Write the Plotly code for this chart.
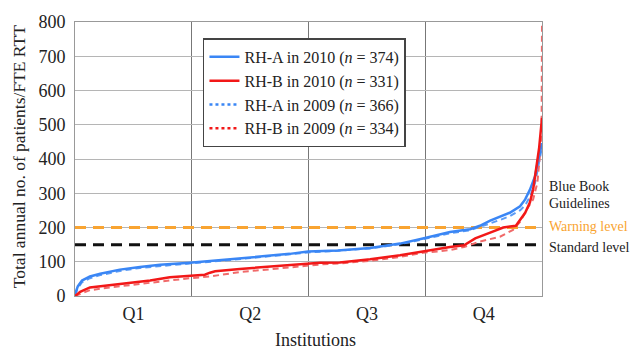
import plotly.graph_objects as go

# Institutions ranked by workload; x is the rank position (0 = lowest, 1 = highest)
rank_a2010 = [0.000, 0.006, 0.015, 0.032, 0.054, 0.096, 0.139, 0.182, 0.246, 0.332,
              0.396, 0.460, 0.499, 0.563, 0.632, 0.664, 0.696, 0.745, 0.782, 0.803,
              0.846, 0.867, 0.889, 0.910, 0.931, 0.953, 0.964, 0.974, 0.985, 0.991,
              0.998, 1.000]
vals_a2010 = [5, 28, 45, 57, 65, 77, 85, 91, 97, 107,
              116, 123, 130, 133, 140, 147, 153, 168, 180, 187,
              195, 205, 220, 232, 243, 262, 282, 310, 349, 392,
              443, 447]

rank_b2010 = [0.000, 0.011, 0.032, 0.075, 0.118, 0.161, 0.203, 0.246, 0.278, 0.289,
              0.300, 0.353, 0.418, 0.482, 0.525, 0.567, 0.632, 0.696, 0.745, 0.782,
              0.803, 0.833, 0.857, 0.889, 0.917, 0.944, 0.953, 0.964, 0.974, 0.981,
              0.987, 0.994, 1.000]
vals_b2010 = [0, 12, 25, 31, 38, 45, 55, 60, 62, 68,
              72, 79, 85, 92, 97, 98, 107, 119, 131, 138,
              143, 148, 168, 185, 200, 205, 222, 243, 273, 311,
              367, 434, 520]

rank_a2009 = [0.000, 0.006, 0.015, 0.032, 0.054, 0.096, 0.139, 0.182, 0.246, 0.332,
              0.396, 0.460, 0.499, 0.563, 0.632, 0.696, 0.745, 0.782, 0.803, 0.846,
              0.867, 0.889, 0.910, 0.931, 0.953, 0.964, 0.974, 0.985, 0.991, 0.998,
              1.000]
vals_a2009 = [3, 22, 40, 52, 61, 73, 82, 88, 95, 105,
              113, 121, 127, 132, 139, 151, 165, 177, 183, 192,
              201, 212, 222, 233, 250, 265, 290, 330, 370, 425,
              435]

rank_b2009 = [0.000, 0.011, 0.032, 0.075, 0.118, 0.161, 0.203, 0.246, 0.289, 0.353,
              0.418, 0.482, 0.525, 0.567, 0.632, 0.696, 0.745, 0.782, 0.803, 0.833,
              0.867, 0.910, 0.938, 0.953, 0.968, 0.981, 0.990, 0.997, 0.999, 1.000]
vals_b2009 = [0, 6, 17, 25, 32, 39, 47, 52, 57, 70,
              78, 87, 92, 95, 103, 114, 126, 131, 134, 143,
              159, 173, 193, 216, 254, 282, 330, 430, 450, 800]

series_names = ["RH-A in 2010 (<i>n</i> = 374)", "RH-B in 2010 (<i>n</i> = 331)",
                "RH-A in 2009 (<i>n</i> = 366)", "RH-B in 2009 (<i>n</i> = 334)"]

quartile_labels = ["Q1", "Q2", "Q3", "Q4"]
quartile_centers = [0.125, 0.375, 0.625, 0.875]
quartile_bounds = [0.25, 0.5, 0.75]

warning_level = 200
standard_level = 150

BLUE = "#3a86f5"
RED = "#f21818"
BLUE_LIGHT = "#5c9cf5"
RED_LIGHT = "#f06a6a"
ORANGE = "#f9a431"
FONT = "'Liberation Serif', 'Times New Roman', serif"
TEXT = "#222222"

fig = go.Figure()

# Reference levels
fig.add_trace(go.Scatter(x=[0, 1], y=[warning_level, warning_level], mode="lines",
                         line=dict(color=ORANGE, width=3, dash="11px,7px"),
                         showlegend=False, hoverinfo="skip"))
fig.add_trace(go.Scatter(x=[0, 1], y=[standard_level, standard_level], mode="lines",
                         line=dict(color="#111111", width=3, dash="11px,7px"),
                         showlegend=False, hoverinfo="skip"))

# 2009 curves (dashed), drawn beneath 2010
fig.add_trace(go.Scatter(x=rank_a2009, y=vals_a2009, mode="lines",
                         line=dict(color=BLUE_LIGHT, width=2, dash="6px,4px"),
                         showlegend=False))
fig.add_trace(go.Scatter(x=rank_b2009, y=vals_b2009, mode="lines",
                         line=dict(color=RED_LIGHT, width=2, dash="6px,4px"),
                         showlegend=False))

# 2010 curves (solid)
fig.add_trace(go.Scatter(x=rank_a2010, y=vals_a2010, mode="lines",
                         line=dict(color=BLUE, width=2.5), name=series_names[0]))
fig.add_trace(go.Scatter(x=rank_b2010, y=vals_b2010, mode="lines",
                         line=dict(color=RED, width=2.5), name=series_names[1]))

# Legend entries for the 2009 series use a dotted sample
fig.add_trace(go.Scatter(x=[None], y=[None], mode="lines",
                         line=dict(color=BLUE, width=2.5, dash="dot"), name=series_names[2]))
fig.add_trace(go.Scatter(x=[None], y=[None], mode="lines",
                         line=dict(color=RED, width=2.5, dash="dot"), name=series_names[3]))

fig.update_layout(
    width=630, height=350,
    margin=dict(l=75, r=88, t=14, b=54),
    plot_bgcolor="white", paper_bgcolor="white",
    font=dict(family=FONT, size=18, color=TEXT),
    showlegend=True,
    legend=dict(x=0.274, y=0.94, xanchor="left", yanchor="top",
                bgcolor="white", bordercolor="#444444", borderwidth=1.5,
                font=dict(family=FONT, size=16, color=TEXT),
                tracegroupgap=0, itemwidth=30),
    xaxis=dict(range=[0, 1], tickvals=quartile_centers, ticktext=quartile_labels,
               showgrid=False, zeroline=False, ticks="", ticklabelstandoff=1,
               showline=True, linecolor="#999999", linewidth=1, mirror=True,
               minor=dict(tickvals=quartile_bounds, showgrid=True,
                          gridcolor="#777777", gridwidth=1, ticks="")),
    yaxis=dict(range=[0, 800], tickvals=[0, 100, 200, 300, 400, 500, 600, 700, 800],
               showgrid=True, gridcolor="#b5b5b5", gridwidth=1, zeroline=False,
               ticks="", ticklabelstandoff=5,
               showline=True, linecolor="#999999", linewidth=1, mirror=True),
)

annotations = [
    dict(text="Total annual no. of patients/FTE RTT", x=-0.12, y=0.51, textangle=-90,
         font=dict(size=17.5)),
    dict(text="Institutions", x=0.515, y=-0.16, font=dict(size=18)),
    dict(text="Blue Book", x=1.010, y=0.401, xanchor="left", font=dict(size=14)),
    dict(text="Guidelines", x=1.010, y=0.337, xanchor="left", font=dict(size=14)),
    dict(text="Warning level", x=1.010, y=0.252, xanchor="left",
         font=dict(size=14, color=ORANGE)),
    dict(text="Standard level", x=1.010, y=0.176, xanchor="left", font=dict(size=14)),
]
for a in annotations:
    a.setdefault("xanchor", "center")
    fig.add_annotation(xref="paper", yref="paper", showarrow=False, yanchor="middle",
                       **a)

fig.write_html("out.html")
